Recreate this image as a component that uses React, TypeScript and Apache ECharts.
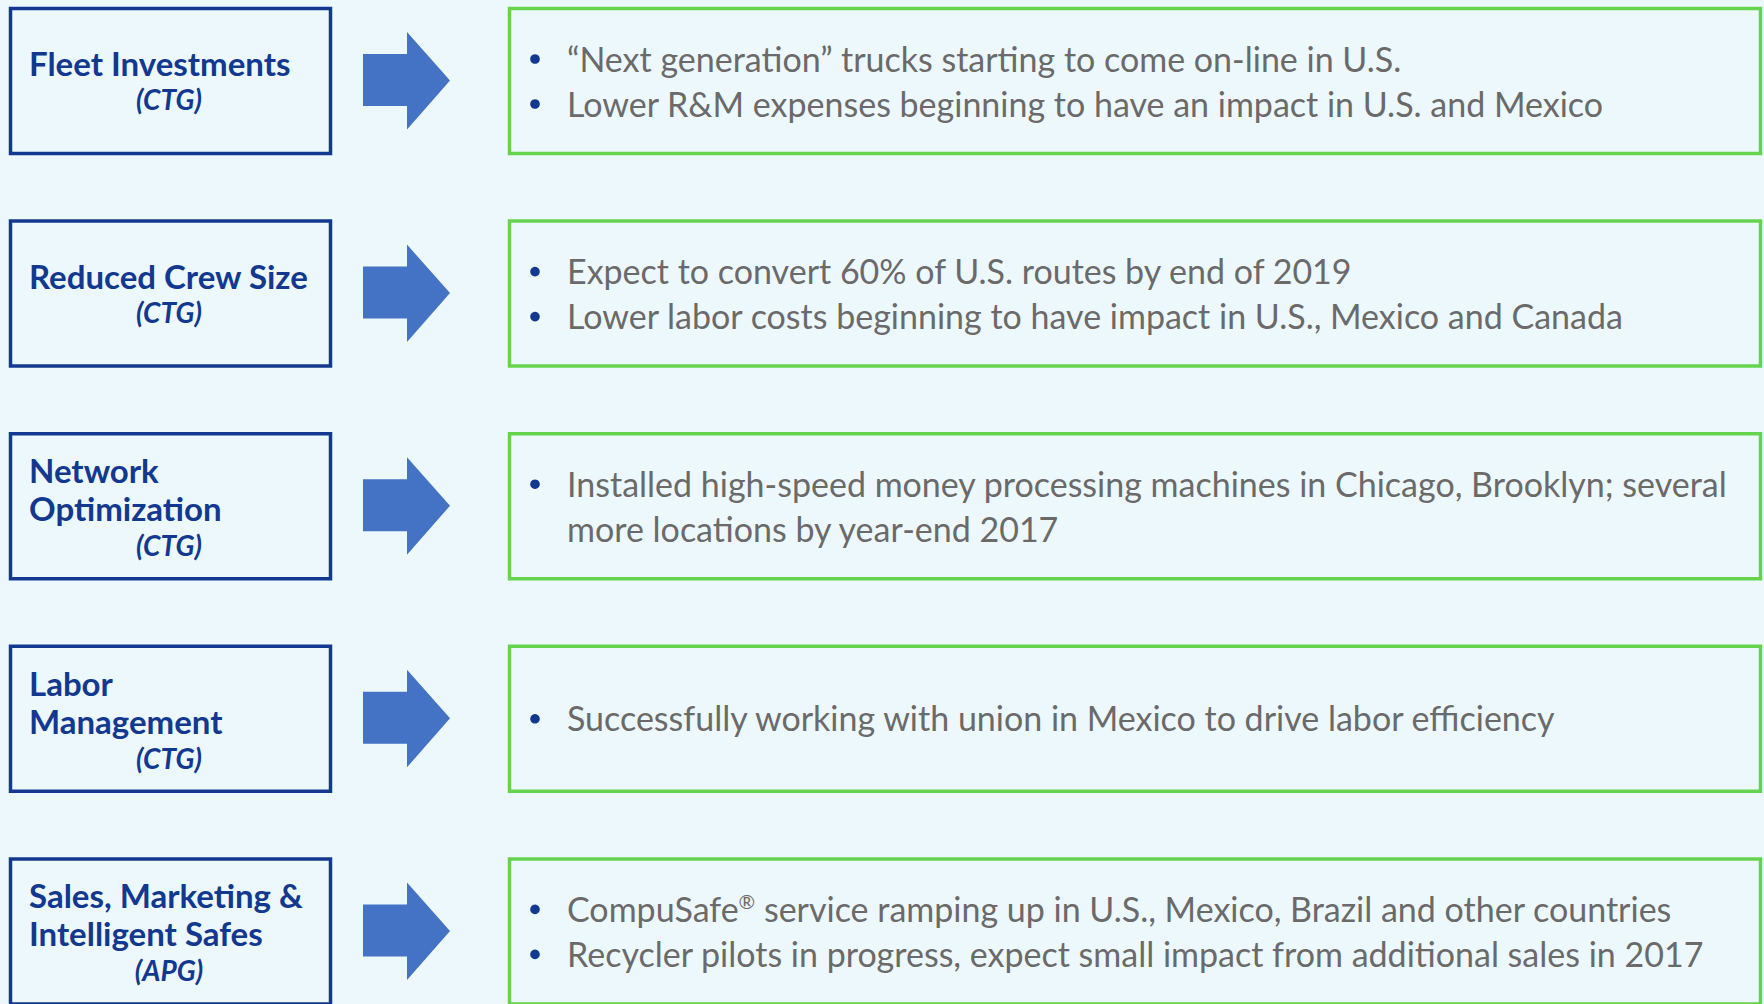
import React, { useEffect, useRef } from "react";
import * as echarts from "echarts";

const titles: string[][] = [
  ["Fleet Investments"],
  ["Reduced Crew Size"],
  ["Network", "Optimization"],
  ["Labor", "Management"],
  ["Sales, Marketing &", "Intelligent Safes"],
];
const segments: string[] = ["(CTG)", "(CTG)", "(CTG)", "(CTG)", "(APG)"];
const bullets: string[][][] = [
  [["\u201CNext generation\u201D trucks starting to come on-line in U.S."], ["Lower R&M expenses beginning to have an impact in U.S. and Mexico"]],
  [["Expect to convert 60% of U.S. routes by end of 2019"], ["Lower labor costs beginning to have impact in U.S., Mexico and Canada"]],
  [["Installed high-speed money processing machines in Chicago, Brooklyn; several", "more locations by year-end 2017"]],
  [["Successfully working with union in Mexico to drive labor efficiency"]],
  [["CompuSafe\u00AE service ramping up in U.S., Mexico, Brazil and other countries"], ["Recycler pilots in progress, expect small impact from additional sales in 2017"]],
];

const BG = "#EDF8FD";
const NAVY = "#12398F";
const ARROW = "#4472C4";
const GREEN = "#66D34F";
const GRAY = "#6A6A6A";
const FONT = "Lato, 'Open Sans', sans-serif";

export default function App() {
  const ref = useRef<HTMLDivElement>(null);
  useEffect(() => {
    if (!ref.current) return;
    const chart = echarts.init(ref.current, null, { renderer: "svg" });
    const elements: any[] = [];
    const pitch = 212.6;
    const boxH = 148;
    titles.forEach((lines, i) => {
      const top = 7 + i * pitch;
      elements.push({
        type: "rect",
        shape: { x: 10.5, y: top + 1.5, width: 320, height: boxH - 3 },
        style: { fill: "none", stroke: NAVY, lineWidth: 3.5 },
      });
      const two = lines.length > 1;
      lines.forEach((ln, k) => {
        elements.push({
          type: "text",
          x: 29,
          y: top + (two ? 38 + k * 38 : 56),
          style: {
            text: ln,
            fill: NAVY,
            font: `bold 33px ${FONT}`,
            textAlign: "left",
            textVerticalAlign: "middle",
          },
        });
      });
      elements.push({
        type: "text",
        x: 169,
        y: top + (two ? 113 : 92),
        style: {
          text: segments[i],
          fill: NAVY,
          font: `italic bold 28px ${FONT}`,
          textAlign: "center",
          textVerticalAlign: "middle",
        },
      });
      elements.push({
        type: "polygon",
        shape: {
          points: [
            [363, top + 47],
            [407, top + 47],
            [407, top + 25],
            [450, top + 73.5],
            [407, top + 122.5],
            [407, top + 99],
            [363, top + 99],
          ],
        },
        style: { fill: ARROW },
      });
      elements.push({
        type: "rect",
        shape: { x: 509.5, y: top + 1.5, width: 1251, height: boxH - 3 },
        style: { fill: "none", stroke: GREEN, lineWidth: 3.5 },
      });
      const items = bullets[i];
      const totalLines = items.reduce((s, b) => s + b.length, 0);
      let lineIdx = 0;
      const startY = totalLines === 1 ? 73 : 51;
      items.forEach((b) => {
        b.forEach((ln, k) => {
          const y = top + startY + lineIdx * 45;
          if (k === 0) {
            elements.push({
              type: "circle",
              shape: { cx: 535, cy: y + 1, r: 4.8 },
              style: { fill: NAVY },
            });
          }
          const hasSup = ln.indexOf("\u00AE") >= 0;
          elements.push({
            type: "text",
            x: 567,
            y,
            style: {
              text: hasSup ? ln.replace("\u00AE", "{sup|\u00AE}") : ln,
              fill: GRAY,
              font: `34px ${FONT}`,
              textAlign: "left",
              textVerticalAlign: "middle",
              rich: hasSup
                ? {
                    sup: {
                      fontSize: 20,
                      fontFamily: FONT,
                      fill: GRAY,
                      color: GRAY,
                      verticalAlign: "top",
                    },
                  }
                : undefined,
            },
          });
          lineIdx++;
        });
      });
    });
    chart.setOption({
      animation: false,
      backgroundColor: BG,
      graphic: { elements },
    });
    return () => chart.dispose();
  }, []);
  return (
    <div
      ref={ref}
      style={{ position: "fixed", left: 0, top: 0, width: 1764, height: 1004 }}
    />
  );
}
